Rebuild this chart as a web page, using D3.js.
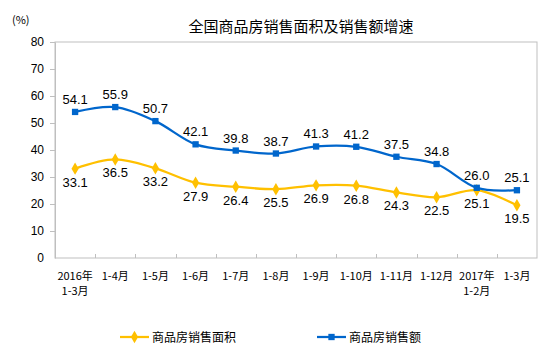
<!DOCTYPE html>
<html>
<head>
<meta charset="utf-8">
<script src="https://cdn.jsdelivr.net/npm/d3@7"></script>
<style>
body { margin: 0; background: #fff; }
svg { display: block; font-family: "Liberation Sans", Arial, sans-serif; }
.cjk { font-family: "Noto Sans CJK SC", "Liberation Sans", sans-serif; }
</style>
</head>
<body>
<svg id="svg"></svg>
<script>
// 月份累计
var months = ["2016年\n1-3月", "1-4月", "1-5月", "1-6月", "1-7月", "1-8月", "1-9月", "1-10月", "1-11月", "1-12月", "2017年\n1-2月", "1-3月"];
// 商品房销售面积增速
var areaGrowth = [33.1, 36.5, 33.2, 27.9, 26.4, 25.5, 26.9, 26.8, 24.3, 22.5, 25.1, 19.5];
// 商品房销售额增速
var salesGrowth = [54.1, 55.9, 50.7, 42.1, 39.8, 38.7, 41.3, 41.2, 37.5, 34.8, 26.0, 25.1];
var yTicks = [0, 10, 20, 30, 40, 50, 60, 70, 80];

var width = 554, height = 358;
var margin = {left: 55, right: 17, top: 42, bottom: 100};
var plot_w = width - margin.left - margin.right;
var plot_h = height - margin.top - margin.bottom;

var yellow = "#FFC000", blue = "#0066CC", grey = "#BFBFBF";

var svg = d3.select("#svg").attr("width", width).attr("height", height);

svg.append("text")
    .attr("class", "cjk")
    .attr("x", 301).attr("y", 32)
    .attr("text-anchor", "middle")
    .style("font-size", "15px")
    .text("全国商品房销售面积及销售额增速");

svg.append("text")
    .attr("class", "cjk")
    .attr("x", 12).attr("y", 24)
    .style("font-size", "11px")
    .text("(%)");

var container = svg.append("g").attr("transform", `translate(${margin.left}, ${margin.top})`);

var xScale = d3.scaleBand().domain(months).range([0, plot_w]);
var yScale = d3.scaleLinear().domain([0, 80]).range([plot_h, 0]);

// plot frame
container.append("rect")
    .attr("x", 0).attr("y", 0)
    .attr("width", plot_w).attr("height", plot_h)
    .attr("fill", "none")
    .attr("stroke", grey);

// y axis
var yAxis = container.append("g").call(d3.axisLeft(yScale).tickValues(yTicks).tickSize(0).tickPadding(11));
yAxis.select(".domain").attr("stroke", grey);
yAxis.selectAll("text").style("font-size", "12px").attr("fill", "#000");
container.append("g").selectAll("line")
    .data(yTicks.slice(1))
    .enter().append("line")
    .attr("x1", -5).attr("x2", 0)
    .attr("y1", d => Math.round(yScale(d)) + 0.5).attr("y2", d => Math.round(yScale(d)) + 0.5)
    .attr("stroke", grey);

// x axis: tick marks between categories, pointing inward
container.append("g").selectAll("line")
    .data(months.slice(1))
    .enter().append("line")
    .attr("x1", d => Math.round(xScale(d)) + 0.5).attr("x2", d => Math.round(xScale(d)) + 0.5)
    .attr("y1", plot_h).attr("y2", plot_h - 4)
    .attr("stroke", grey);

var xLabels = container.append("g").selectAll("text")
    .data(months)
    .enter().append("text")
    .attr("class", "cjk")
    .attr("text-anchor", "middle")
    .style("font-size", "11px")
    .attr("transform", d => `translate(${xScale(d) + xScale.bandwidth() / 2}, ${plot_h + 22})`);
xLabels.selectAll("tspan")
    .data(d => d.split("\n"))
    .enter().append("tspan")
    .attr("x", 0)
    .attr("dy", (d, i) => i == 0 ? 0 : 15)
    .text(d => d);

var cx = (d, i) => xScale(months[i]) + xScale.bandwidth() / 2;
var line = d3.line().x(cx).y(d => yScale(d)).curve(d3.curveCatmullRom.alpha(0.5));

function drawSeries(vals, color, symbol, size, labelDy) {
    container.append("path")
        .datum(vals)
        .attr("d", line)
        .attr("fill", "none")
        .attr("stroke", color)
        .attr("stroke-width", 2.25);
    container.append("g").selectAll("path")
        .data(vals)
        .enter().append("path")
        .attr("d", d3.symbol().type(symbol).size(size))
        .attr("transform", (d, i) => `translate(${cx(d, i)}, ${yScale(d)})`)
        .attr("fill", color);
    container.append("g").selectAll("text")
        .data(vals)
        .enter().append("text")
        .attr("x", (d, i) => cx(d, i))
        .attr("y", d => yScale(d) + labelDy)
        .attr("text-anchor", "middle")
        .style("font-size", "13px")
        .text(d => d.toFixed(1));
}

drawSeries(areaGrowth, yellow, d3.symbolDiamond, 45, 18);
drawSeries(salesGrowth, blue, d3.symbolSquare, 40, -8);

// legend
var legend = [
    {name: "商品房销售面积", color: yellow, symbol: d3.symbolDiamond, size: 45, x: 120},
    {name: "商品房销售额", color: blue, symbol: d3.symbolSquare, size: 40, x: 317}
];
var lg = svg.append("g").selectAll("g")
    .data(legend)
    .enter().append("g")
    .attr("transform", d => `translate(${d.x}, 337)`);
lg.append("line")
    .attr("x1", 0).attr("x2", 29)
    .attr("stroke", d => d.color)
    .attr("stroke-width", 2.25);
lg.append("path")
    .attr("d", d => d3.symbol().type(d.symbol).size(d.size)())
    .attr("transform", "translate(14.5, 0)")
    .attr("fill", d => d.color);
lg.append("text")
    .attr("class", "cjk")
    .attr("x", 32).attr("y", 4.5)
    .style("font-size", "12px")
    .text(d => d.name);
</script>
</body>
</html>
